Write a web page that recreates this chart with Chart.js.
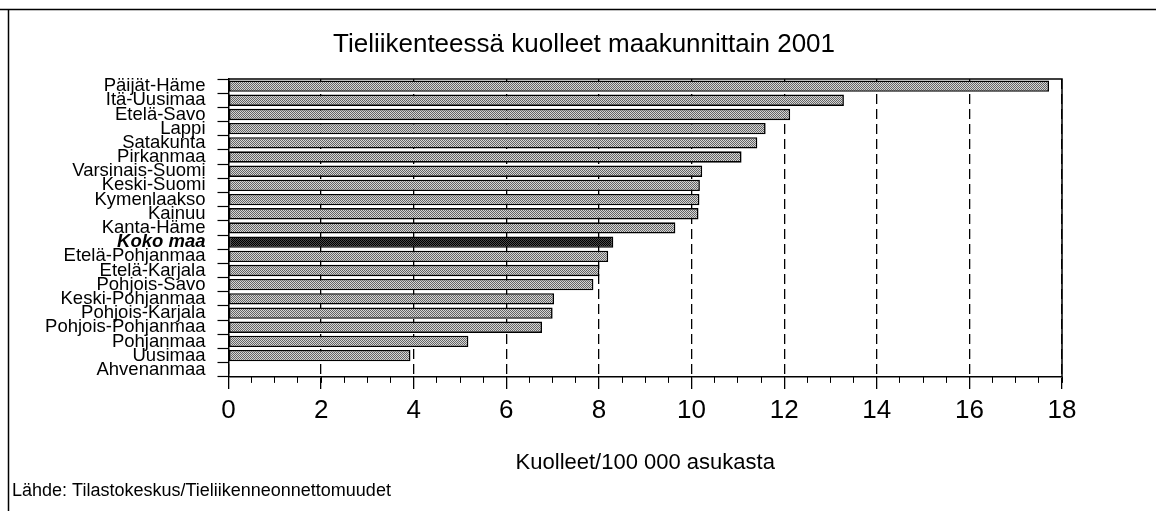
<!DOCTYPE html>
<html>
<head>
<meta charset="utf-8">
<script src="https://cdn.jsdelivr.net/npm/chart.js@4"></script>
<style>
    html, body { margin: 0; padding: 0; background: #fff; }
    #wrap { width: 1156px; height: 511px; }
</style>
</head>
<body>
<div id="wrap"><canvas id="kuva" width="1156" height="511"></canvas></div>
<script>
const maakunnat = ['Päijät-Häme', 'Itä-Uusimaa', 'Etelä-Savo', 'Lappi', 'Satakunta', 'Pirkanmaa',
    'Varsinais-Suomi', 'Keski-Suomi', 'Kymenlaakso', 'Kainuu', 'Kanta-Häme', 'Koko maa',
    'Etelä-Pohjanmaa', 'Etelä-Karjala', 'Pohjois-Savo', 'Keski-Pohjanmaa', 'Pohjois-Karjala',
    'Pohjois-Pohjanmaa', 'Pohjanmaa', 'Uusimaa', 'Ahvenanmaa'];

// kuolleet / 100 000 asukasta
const kuolleet = [17.72, 13.29, 12.13, 11.6, 11.42, 11.08, 10.23, 10.18, 10.17, 10.15, 9.65, 8.31,
    8.2, 8.01, 7.88, 7.03, 7.0, 6.77, 5.18, 3.93, 0];

const xTicks = [0, 2, 4, 6, 8, 10, 12, 14, 16, 18];

const otsikko = 'Tieliikenteessä kuolleet maakunnittain 2001';
const akseliOtsikko = 'Kuolleet/100 000 asukasta';
const lahde = 'Lähde: Tilastokeskus/Tieliikenneonnettomuudet';

const FONT = "'Liberation Sans', Arial, sans-serif";
Chart.defaults.color = '#000';
Chart.defaults.font.family = FONT;

// pieni rasterikuvio palkkeihin
function rasteri(vaalea, tumma) {
    const c = document.createElement('canvas');
    c.width = 4; c.height = 4;
    const g = c.getContext('2d');
    g.fillStyle = vaalea;
    g.fillRect(0, 0, 4, 4);
    g.fillStyle = tumma;
    for (let y = 0; y < 4; y++)
        for (let x = 0; x < 4; x++)
            if ((x + y) % 2 === 0) g.fillRect(x, y, 1, 1);
    return g.createPattern(c, 'repeat');
}

const harmaa = rasteri('#d6d6d6', '#646464');
const musta = rasteri('#4a4a4a', '#000000');
const kokoMaa = maakunnat.indexOf('Koko maa');

// kehykset: koko kuvan ylä- ja vasen reuna sekä piirtoalueen laatikko
const kehys = {
    id: 'kehys',
    afterDraw(chart) {
        const ctx = chart.ctx;
        const a = chart.chartArea;
        ctx.save();
        ctx.strokeStyle = '#000';
        ctx.lineWidth = 1.5;
        ctx.beginPath();
        ctx.moveTo(0, 9.5);
        ctx.lineTo(chart.width, 9.5);
        ctx.moveTo(8.5, 9.5);
        ctx.lineTo(8.5, chart.height);
        ctx.stroke();
        ctx.beginPath();
        ctx.moveTo(a.left, a.top);
        ctx.lineTo(a.right, a.top);
        ctx.lineTo(a.right, a.bottom);
        ctx.stroke();
        ctx.restore();
    }
};

new Chart('kuva', {
    type: 'bar',
    data: {
        labels: maakunnat,
        datasets: [{
            data: kuolleet,
            backgroundColor: ctx => ctx.dataIndex === kokoMaa ? musta : harmaa,
            borderColor: '#000',
            borderWidth: 1.6,
            borderSkipped: false,
            barPercentage: 0.8,
            categoryPercentage: 1
        }]
    },
    options: {
        indexAxis: 'y',
        responsive: false,
        animation: false,
        layout: { padding: { left: 12, right: 0, top: 0, bottom: 0 } },
        plugins: {
            legend: { display: false },
            tooltip: { enabled: false },
            title: {
                display: true,
                text: otsikko,
                font: { size: 26, weight: 'normal' },
                padding: { top: 29, bottom: 18.8 }
            },
            subtitle: {
                display: true,
                text: lahde,
                position: 'bottom',
                align: 'start',
                font: { size: 18 },
                padding: { top: 0, bottom: 9 }
            }
        },
        scales: {
            y: {
                afterFit: s => { s.width = 216.5; },
                grid: { drawOnChartArea: false, tickLength: 11, color: '#000', tickWidth: 1.2 },
                border: { color: '#000', width: 1.5 },
                ticks: {
                    autoSkip: false,
                    padding: 12,
                    font: ctx => ctx.index === kokoMaa
                        ? { size: 18.5, weight: 'bold', style: 'italic' }
                        : { size: 18.5 }
                }
            },
            // tyhjä tila oikealla puolella
            oikea: {
                type: 'category',
                position: 'right',
                afterFit: s => { s.width = 94; },
                grid: { display: false },
                ticks: { display: false },
                border: { display: false }
            },
            // pienet väliviivat 0,5 välein
            x2: {
                type: 'linear',
                position: 'bottom',
                weight: 0,
                min: 0,
                max: 18,
                afterFit: s => { s.height = 0; },
                ticks: { display: false, stepSize: 0.5, autoSkip: false },
                grid: { drawOnChartArea: false, tickLength: 6, tickColor: '#000', tickWidth: 1 },
                border: { display: false }
            },
            x: {
                type: 'linear',
                position: 'bottom',
                weight: 1,
                min: 0,
                max: 18,
                afterFit: s => { s.height = 103.5; },
                afterBuildTicks: s => { s.ticks = xTicks.map(v => ({ value: v })); },
                grid: { color: '#000', lineWidth: 1.3, tickLength: 12, tickColor: '#000', tickWidth: 1.3 },
                border: { color: '#000', width: 1.5, dash: [10, 5] },
                ticks: { autoSkip: false, maxRotation: 0, padding: 6, font: { size: 26 } },
                title: {
                    display: true,
                    text: akseliOtsikko,
                    font: { size: 22 },
                    padding: { top: 0, bottom: 4 }
                }
            }
        }
    },
    plugins: [kehys]
});
</script>
</body>
</html>
